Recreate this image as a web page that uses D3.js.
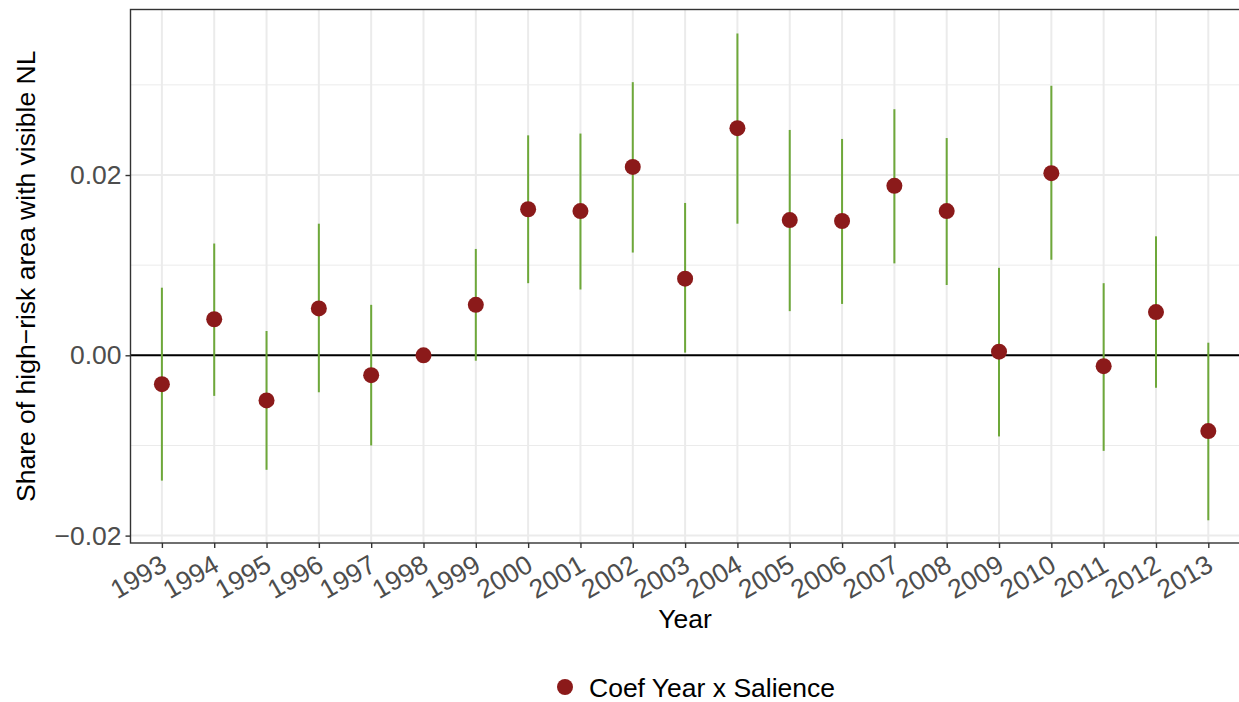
<!DOCTYPE html>
<html>
<head>
<meta charset="utf-8">
<script src="https://cdn.jsdelivr.net/npm/d3@7"></script>
<style>
  html, body { margin: 0; padding: 0; background: #fff; }
  svg { display: block; font-family: "Liberation Sans", Arial, sans-serif; }
</style>
</head>
<body>
<svg id="chart" width="1239" height="702"></svg>
<script>
// Event-study coefficients: Year x Salience, with 95% confidence bounds
const years = ["1993","1994","1995","1996","1997","1998","1999","2000","2001","2002","2003",
               "2004","2005","2006","2007","2008","2009","2010","2011","2012","2013"];
const coef  = [-0.0032, 0.0040, -0.0050, 0.0052, -0.0022, 0.0000, 0.0056, 0.0162, 0.0160, 0.0209, 0.0085,
                0.0252, 0.0150, 0.0149, 0.0188, 0.0160, 0.0004, 0.0202, -0.0012, 0.0048, -0.0084];
const ciHigh = [0.0075, 0.0124, 0.0027, 0.0146, 0.0056, 0.0000, 0.0118, 0.0244, 0.0246, 0.0303, 0.0169,
                0.0357, 0.0250, 0.0240, 0.0273, 0.0241, 0.0097, 0.0299, 0.0080, 0.0132, 0.0014];
const ciLow  = [-0.0139, -0.0045, -0.0127, -0.0041, -0.0100, 0.0000, -0.0006, 0.0080, 0.0073, 0.0114, 0.0003,
                0.0146, 0.0049, 0.0057, 0.0102, 0.0078, -0.0090, 0.0106, -0.0106, -0.0036, -0.0183];
const yTicks = [-0.02, 0.00, 0.02];
const yMinor = [-0.01, 0.01, 0.03];
const legendLabel = "Coef Year x Salience";

const FONT = 26.5;
const svg = d3.select("#chart");
const panel = { left: 130.5, right: 1239.7, top: 9.5, bottom: 543 };

const x = d3.scalePoint().domain(years).range([panel.left, panel.right]).padding(0.6);
const y = d3.scaleLinear().domain([-0.02082, 0.03836]).range([panel.bottom, panel.top]);

const rows = years.map((yr, i) => ({ yr, c: coef[i], lo: ciLow[i], hi: ciHigh[i] }));

// panel background
svg.append("rect")
  .attr("x", panel.left).attr("y", panel.top)
  .attr("width", panel.right - panel.left).attr("height", panel.bottom - panel.top)
  .attr("fill", "#fff");

const grid = svg.append("g");
grid.selectAll("line.minor").data(yMinor).join("line")
  .attr("x1", panel.left).attr("x2", panel.right)
  .attr("y1", d => y(d)).attr("y2", d => y(d))
  .attr("stroke", "#ebebeb").attr("stroke-width", 1);
grid.selectAll("line.majy").data(yTicks).join("line")
  .attr("x1", panel.left).attr("x2", panel.right)
  .attr("y1", d => y(d)).attr("y2", d => y(d))
  .attr("stroke", "#ebebeb").attr("stroke-width", 2);
grid.selectAll("line.majx").data(years).join("line")
  .attr("x1", d => x(d)).attr("x2", d => x(d))
  .attr("y1", panel.top).attr("y2", panel.bottom)
  .attr("stroke", "#ebebeb").attr("stroke-width", 2);

// zero reference line
svg.append("line")
  .attr("x1", panel.left).attr("x2", panel.right)
  .attr("y1", y(0)).attr("y2", y(0))
  .attr("stroke", "#000").attr("stroke-width", 2);

// confidence intervals
svg.append("g").selectAll("line").data(rows.filter(d => d.hi !== d.lo)).join("line")
  .attr("x1", d => x(d.yr)).attr("x2", d => x(d.yr))
  .attr("y1", d => y(d.lo)).attr("y2", d => y(d.hi))
  .attr("stroke", "#6ea83a").attr("stroke-width", 2);

// point estimates
svg.append("g").selectAll("circle").data(rows).join("circle")
  .attr("cx", d => x(d.yr)).attr("cy", d => y(d.c))
  .attr("r", 8).attr("fill", "#8b1a1a");

// panel border
svg.append("rect")
  .attr("x", panel.left).attr("y", panel.top)
  .attr("width", panel.right - panel.left).attr("height", panel.bottom - panel.top)
  .attr("fill", "none").attr("stroke", "#333").attr("stroke-width", 1.4);

// y axis
const yAxis = svg.append("g").attr("transform", `translate(${panel.left},0)`)
  .call(d3.axisLeft(y).tickValues(yTicks).tickSize(5).tickPadding(4)
    .tickFormat(d => d === 0 ? "0.00" : d3.format(".2f")(d).replace("-", "\u2212")));
yAxis.select(".domain").remove();
yAxis.selectAll(".tick line").attr("stroke", "#333").attr("stroke-width", 1.4);
yAxis.selectAll(".tick text").attr("fill", "#4d4d4d").style("font-size", FONT + "px")
  .attr("font-family", "Liberation Sans, Arial, sans-serif");

// x axis
const xAxis = svg.append("g").attr("transform", `translate(0,${panel.bottom})`)
  .call(d3.axisBottom(x).tickSize(5).tickPadding(4));
xAxis.select(".domain").remove();
xAxis.selectAll(".tick line").attr("stroke", "#333").attr("stroke-width", 1.4);
xAxis.selectAll(".tick text")
  .attr("fill", "#4d4d4d").style("font-size", FONT + "px")
  .attr("font-family", "Liberation Sans, Arial, sans-serif")
  .attr("text-anchor", "end")
  .attr("dy", null).attr("y", null)
  .attr("transform", "translate(6,27) rotate(-30)");

// axis titles
svg.append("text")
  .attr("x", (panel.left + panel.right) / 2).attr("y", 628)
  .attr("text-anchor", "middle").attr("font-size", FONT).attr("fill", "#000")
  .text("Year");
svg.append("text")
  .attr("transform", `translate(35,${(panel.top + panel.bottom) / 2}) rotate(-90)`)
  .attr("text-anchor", "middle").attr("font-size", FONT).attr("fill", "#000")
  .text("Share of high\u2212risk area with visible NL");

// legend
const legend = svg.append("g").attr("transform", "translate(565,687)");
legend.append("circle").attr("r", 8).attr("fill", "#8b1a1a");
legend.append("text").attr("x", 24).attr("y", 9.5)
  .attr("font-size", FONT).attr("fill", "#000").text(legendLabel);
</script>
</body>
</html>
